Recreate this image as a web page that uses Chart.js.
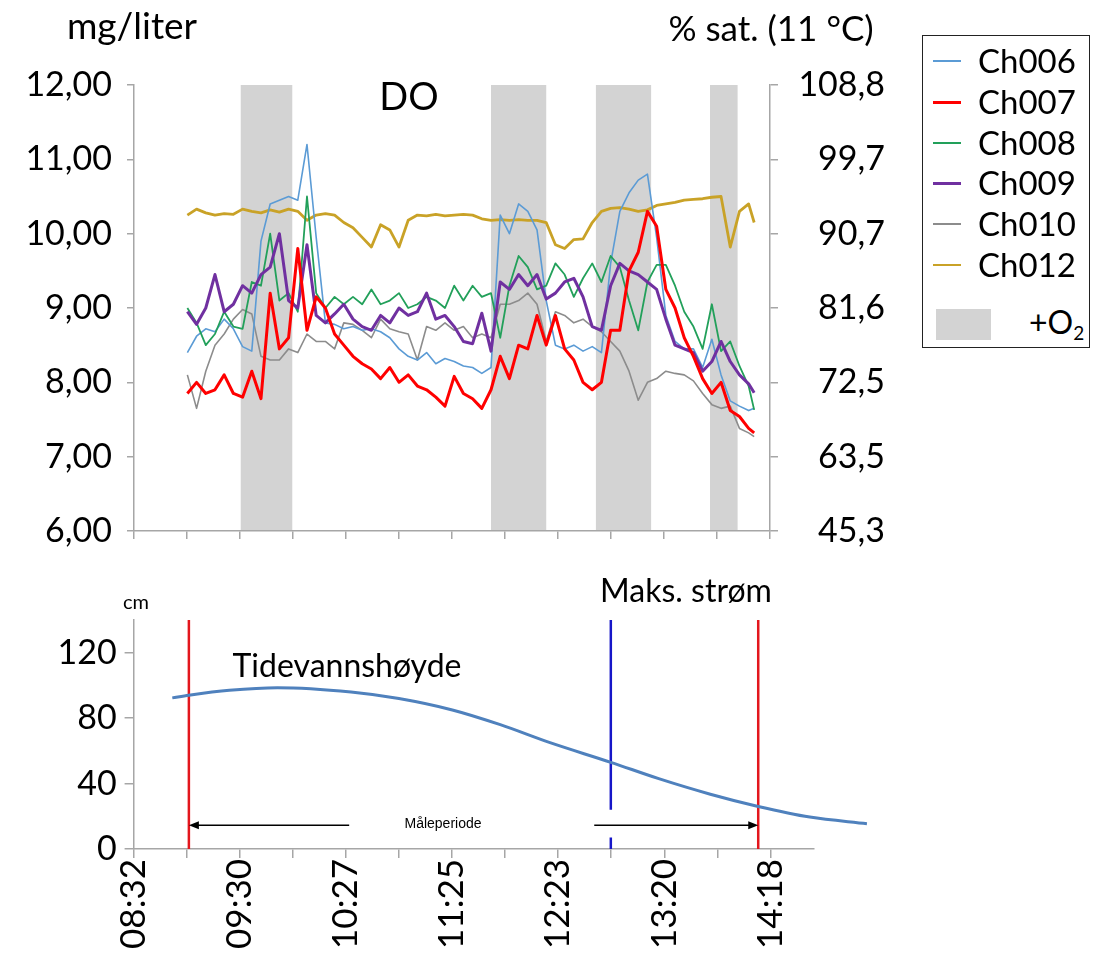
<!DOCTYPE html>
<html>
<head>
<meta charset="utf-8">
<title>DO og tidevann</title>
<script src="https://cdn.jsdelivr.net/npm/chart.js@4.4.0/dist/chart.umd.min.js"></script>
<style>
  html, body { margin: 0; padding: 0; background: #fff; }
  body { width: 1104px; height: 954px; position: relative; overflow: hidden;
         font-family: Lato, "Open Sans", sans-serif; color: #000; }
  canvas { position: absolute; left: 0; }
  .lbl { position: absolute; white-space: nowrap; line-height: 1; transform: translate(-50%, -50%); }
  #legend { position: absolute; left: 922px; top: 35px; width: 166px; height: 311px;
            border: 1.5px solid #222; }
  .lg-row { position: absolute; left: 0; height: 36px; width: 100%; }
  .lg-line { position: absolute; left: 10px; width: 28px; top: 50%; }
  .lg-txt { position: absolute; left: 55px; top: 50%; transform: translateY(-50%); font-size: 33px; line-height: 1; }
  .lg-box { position: absolute; left: 13px; top: 273px; width: 55px; height: 31px; background: #d3d3d3; }
  .lg-o2 { position: absolute; left: 106px; top: 288px; transform: translateY(-50%); font-size: 32px; line-height: 1; }
  .lg-o2 sub { font-size: 19px; vertical-align: -6px; }
</style>
</head>
<body>
<canvas id="doChart" width="900" height="560" style="top:0"></canvas>
<canvas id="tideChart" width="1104" height="394" style="top:560px"></canvas>

<div class="lbl" style="left:132px; top:24px; font-size:37px">mg/liter</div>
<div class="lbl" style="left:771px; top:27px; font-size:35px">% sat. (11 °C)</div>
<div class="lbl" style="left:409px; top:95px; font-size:38px">DO</div>
<div class="lbl" style="left:136px; top:601px; font-size:20px">cm</div>
<div class="lbl" style="left:347px; top:665px; font-size:32px">Tidevannshøyde</div>
<div class="lbl" style="left:686px; top:590px; font-size:32px">Maks. strøm</div>
<div class="lbl" style="left:443px; top:823px; font-size:14px; font-family:'Liberation Sans', Arial, sans-serif">Måleperiode</div>
<div id="legend"></div>

<script>
// ── DO-logg, 5-min punkter ──
var times = ['09:01','09:06','09:11','09:16','09:21','09:26','09:31','09:36','09:41','09:46',
             '09:51','09:56','10:01','10:06','10:11','10:16','10:21','10:26','10:31','10:36',
             '10:41','10:46','10:51','10:56','11:01','11:06','11:11','11:16','11:21','11:26',
             '11:31','11:36','11:41','11:46','11:51','11:56','12:01','12:06','12:11','12:16',
             '12:21','12:26','12:31','12:36','12:41','12:46','12:51','12:56','13:01','13:06',
             '13:11','13:16','13:21','13:26','13:31','13:36','13:41','13:46','13:51','13:56',
             '14:01','14:06','14:09'];

var ch006 = [8.40, 8.62, 8.72, 8.68, 8.85, 8.72, 8.48, 8.42, 9.90, 10.40,
             10.45, 10.50, 10.45, 11.20, 9.95, 8.80, 8.78, 8.72, 8.75, 8.70,
             8.72, 8.68, 8.60, 8.45, 8.35, 8.30, 8.40, 8.25, 8.32, 8.28,
             8.22, 8.20, 8.12, 8.20, 10.25, 10.00, 10.40, 10.30, 10.05, 9.10,
             8.50, 8.45, 8.50, 8.42, 8.48, 8.40, 9.60, 10.30, 10.55, 10.72,
             10.80, 9.95, 8.90, 8.55, 8.45, 8.45, 8.20, 8.58, 8.10, 7.75,
             7.68, 7.62, 7.65];
var ch007 = [7.85, 8.00, 7.85, 7.90, 8.10, 7.85, 7.80, 8.15, 7.78, 9.20,
             8.45, 8.60, 9.80, 8.70, 9.15, 9.00, 8.65, 8.50, 8.35, 8.25,
             8.18, 8.05, 8.20, 8.00, 8.10, 7.95, 7.90, 7.80, 7.68, 8.08,
             7.85, 7.78, 7.65, 7.90, 8.35, 8.05, 8.50, 8.45, 8.90, 8.50,
             8.90, 8.45, 8.30, 8.00, 7.90, 8.00, 8.70, 8.70, 9.50, 9.75,
             10.30, 10.10, 9.25, 9.00, 8.60, 8.35, 8.05, 7.85, 8.00, 7.62,
             7.54, 7.38, 7.32];
var ch008 = [9.00, 8.80, 8.50, 8.65, 8.95, 8.75, 8.72, 9.35, 9.30, 10.00,
             9.10, 9.20, 8.95, 10.50, 9.20, 9.00, 9.15, 9.05, 9.15, 9.05,
             9.25, 9.05, 9.10, 9.20, 9.00, 9.05, 9.15, 9.10, 9.00, 9.30,
             9.10, 9.30, 9.15, 9.20, 8.60, 9.30, 9.70, 9.55, 9.25, 9.30,
             9.60, 9.45, 9.15, 9.40, 9.60, 9.35, 9.70, 9.55, 9.10, 8.70,
             9.35, 9.58, 9.58, 9.30, 8.95, 8.75, 8.45, 9.05, 8.42, 8.55,
             8.22, 7.95, 7.63];
var ch009 = [8.95, 8.78, 9.00, 9.45, 8.95, 9.05, 9.30, 9.20, 9.45, 9.55,
             10.00, 9.10, 9.00, 9.85, 8.90, 8.80, 8.92, 9.05, 8.85, 8.75,
             8.70, 8.90, 8.80, 9.00, 8.90, 8.95, 9.20, 8.85, 8.90, 8.75,
             8.55, 8.52, 8.93, 8.42, 9.35, 9.25, 9.45, 9.30, 9.45, 9.12,
             9.20, 9.35, 9.40, 9.15, 8.75, 8.70, 9.30, 9.60, 9.50, 9.45,
             9.35, 9.25, 8.85, 8.50, 8.45, 8.40, 8.15, 8.28, 8.55, 8.28,
             8.10, 7.98, 7.86];
var ch010 = [8.10, 7.65, 8.15, 8.50, 8.65, 8.85, 8.98, 8.92, 8.35, 8.30,
             8.30, 8.45, 8.40, 8.65, 8.55, 8.55, 8.45, 8.80, 8.78, 8.70,
             8.60, 8.85, 8.72, 8.68, 8.65, 8.30, 8.75, 8.70, 8.80, 8.70,
             8.75, 8.60, 8.65, 8.60, 9.05, 9.05, 9.10, 9.20, 9.05, 8.55,
             8.95, 8.90, 8.80, 8.85, 8.75, 8.68, 8.55, 8.42, 8.15, 7.76,
             8.00, 8.05, 8.15, 8.12, 8.10, 8.02, 7.85, 7.70, 7.65, 7.68,
             7.38, 7.32, 7.27];
var ch012 = [10.25, 10.33, 10.28, 10.25, 10.27, 10.26, 10.33, 10.30, 10.28, 10.32,
             10.29, 10.33, 10.30, 10.18, 10.25, 10.27, 10.25, 10.15, 10.08, 9.95,
             9.82, 10.12, 10.05, 9.82, 10.18, 10.25, 10.24, 10.26, 10.24, 10.25,
             10.26, 10.25, 10.20, 10.18, 10.19, 10.18, 10.19, 10.18, 10.18, 10.15,
             9.85, 9.80, 9.92, 9.93, 10.15, 10.30, 10.34, 10.35, 10.33, 10.30,
             10.32, 10.38, 10.40, 10.42, 10.45, 10.46, 10.47, 10.49, 10.50, 9.82,
             10.30, 10.40, 10.15];

var seriesNames  = ['Ch006', 'Ch007', 'Ch008', 'Ch009', 'Ch010', 'Ch012'];
var seriesColors = ['#5b9bd5', '#ff0000', '#22a05a', '#7030a0', '#8c8c8c', '#c9a227'];
var seriesWidths = [1.6, 3, 1.8, 3, 1.6, 2.8];

// perioder med oksygentilsetting (+O2)
var o2Bands = [['09:30', '09:58'], ['11:46', '12:16'], ['12:43', '13:13'], ['13:45', '14:00']];

var mgTicks   = [6, 7, 8, 9, 10, 11, 12];
var satLabels = ['45,3', '63,5', '72,5', '81,6', '90,7', '99,7', '108,8'];

// ── Tidevann ──
var tideTimes = ['08:53', '09:02', '09:24', '09:50', '10:30', '10:56', '11:25', '11:51',
                 '12:18', '12:51', '13:17', '13:45', '14:11', '14:39', '15:10'];
var tideCm    = [92.4, 94, 97, 98.6, 96, 92, 85, 76, 65, 53, 43, 33.5, 26, 19.5, 15.5];

var timeTickLabels = ['08:32', '09:30', '10:27', '11:25', '12:23', '13:20', '14:18'];
var axisStart  = '08:32';
var tickStep   = 28.8;         // minutter (0,02 døgn)
var periodStart = '09:02', periodEnd = '14:11', maxCurrent = '12:51';
var periodArrows = [['10:29', '09:02'], ['12:42', '14:11']];
var arrowCm = 14.5;

var AXIS = '#a6a6a6';
var BAND = '#d3d3d3';

Chart.defaults.font.family = "Lato, 'Open Sans', sans-serif";
Chart.defaults.color = '#000';

function toMin(s) {
  var p = s.split(':');
  return parseInt(p[0], 10) * 60 + parseInt(p[1], 10);
}

var t0 = toMin(axisStart);
var tickVals = [];
for (var i = 0; i <= 12; i++) tickVals.push(t0 + i * tickStep);

function setTimeTicks(scale) {
  scale.ticks = tickVals.map(function(v) { return { value: v }; });
}

function timeLabel(v, idx) {
  return idx % 2 === 0 ? timeTickLabels[idx / 2] : '';
}

// y-aksene skal ikke dytte plottet opp/ned
function fixWidth(w) {
  return function(s) { s.width = w; s.paddingTop = 0; s.paddingBottom = 0; };
}

// ── Plugins ──

var bandPlugin = {
  id: 'o2bands',
  beforeDatasetsDraw: function(chart) {
    var ctx = chart.ctx, xs = chart.scales.x, a = chart.chartArea;
    ctx.save();
    ctx.fillStyle = BAND;
    o2Bands.forEach(function(b) {
      var x0 = xs.getPixelForValue(toMin(b[0]));
      var x1 = xs.getPixelForValue(toMin(b[1]));
      ctx.fillRect(x0, a.top, x1 - x0, a.bottom - a.top - 1);
    });
    ctx.restore();
  }
};

var arrowPlugin = {
  id: 'periodArrows',
  afterDatasetsDraw: function(chart) {
    var ctx = chart.ctx, xs = chart.scales.x, ys = chart.scales.y;
    var y = ys.getPixelForValue(arrowCm);
    ctx.save();
    ctx.strokeStyle = '#000';
    ctx.fillStyle = '#000';
    ctx.lineWidth = 1.5;
    periodArrows.forEach(function(a) {
      var x0 = xs.getPixelForValue(toMin(a[0]));
      var x1 = xs.getPixelForValue(toMin(a[1]));
      var dir = x1 > x0 ? 1 : -1;
      ctx.beginPath();
      ctx.moveTo(x0, y);
      ctx.lineTo(x1 - dir * 8, y);
      ctx.stroke();
      ctx.beginPath();
      ctx.moveTo(x1, y);
      ctx.lineTo(x1 - dir * 10, y - 4);
      ctx.lineTo(x1 - dir * 10, y + 4);
      ctx.closePath();
      ctx.fill();
    });
    ctx.restore();
  }
};

// ── DO chart ──

var doSeries = [ch006, ch007, ch008, ch009, ch010, ch012];
var drawOrder = [3, 0, 2, 1, 4, 5];   // lavere = tegnes øverst
var doDatasets = doSeries.map(function(vals, k) {
  return {
    label: seriesNames[k],
    data: vals.map(function(v, j) { return { x: toMin(times[j]), y: v }; }),
    borderColor: seriesColors[k],
    borderWidth: seriesWidths[k],
    pointRadius: 0,
    tension: 0,
    borderJoinStyle: 'round',
    order: drawOrder[k]
  };
});

new Chart(document.getElementById('doChart'), {
  type: 'line',
  data: { datasets: doDatasets },
  options: {
    responsive: false,
    animation: false,
    layout: { padding: { top: 85, left: 0, right: 15, bottom: 0 } },
    plugins: { legend: { display: false }, tooltip: { enabled: false } },
    scales: {
      x: {
        type: 'linear',
        min: t0, max: tickVals[12],
        bounds: 'data',
        afterBuildTicks: setTimeTicks,
        ticks: { display: false },
        grid: { drawOnChartArea: false, tickLength: 8, color: AXIS, lineWidth: 1.5 },
        border: { color: AXIS, width: 1.5 },
        afterFit: function(s) { s.height = 29; }
      },
      y: {
        position: 'left',
        min: mgTicks[0], max: mgTicks[mgTicks.length - 1],
        afterBuildTicks: function(s) { s.ticks = mgTicks.map(function(v) { return { value: v }; }); },
        ticks: {
          padding: 15, font: { size: 34 },
          callback: function(v) { return v.toFixed(2).replace('.', ','); }
        },
        grid: { drawOnChartArea: false, tickLength: 7, color: AXIS, lineWidth: 1.5 },
        border: { color: AXIS, width: 1.5 },
        afterFit: fixWidth(134)
      },
      y2: {
        position: 'right',
        min: mgTicks[0], max: mgTicks[mgTicks.length - 1],
        afterBuildTicks: function(s) { s.ticks = mgTicks.map(function(v) { return { value: v }; }); },
        ticks: {
          padding: 19, crossAlign: 'far', font: { size: 34 },
          callback: function(v, idx) { return satLabels[idx]; }
        },
        grid: { drawOnChartArea: false, tickLength: 8, color: AXIS, lineWidth: 1.5 },
        border: { color: AXIS, width: 1.5 },
        afterFit: fixWidth(115)
      }
    }
  },
  plugins: [bandPlugin]
});

// ── Tide chart ──

var tB = toMin(maxCurrent);
new Chart(document.getElementById('tideChart'), {
  type: 'line',
  data: {
    datasets: [
      {
        label: 'Tidevannshøyde',
        data: tideTimes.map(function(t, j) { return { x: toMin(t), y: tideCm[j] }; }),
        borderColor: '#4f81bd', borderWidth: 3, pointRadius: 0,
        tension: 0.4, cubicInterpolationMode: 'monotone', clip: false
      },
      {
        label: 'start',
        data: [{ x: toMin(periodStart), y: 0 }, { x: toMin(periodStart), y: 140 }],
        borderColor: '#e3161d', borderWidth: 2.5, pointRadius: 0
      },
      {
        label: 'slutt',
        data: [{ x: toMin(periodEnd), y: 0 }, { x: toMin(periodEnd), y: 140 }],
        borderColor: '#e3161d', borderWidth: 2.5, pointRadius: 0
      },
      {
        label: 'Maks. strøm',
        data: [{ x: tB, y: 140 }, { x: tB, y: 24 }, { x: tB, y: null }, { x: tB, y: 7 }, { x: tB, y: 0 }],
        borderColor: '#1616c8', borderWidth: 2.5, pointRadius: 0, spanGaps: false
      }
    ]
  },
  options: {
    responsive: false,
    animation: false,
    layout: { padding: { top: 60, right: 290.5, left: 0, bottom: 0 } },
    plugins: { legend: { display: false }, tooltip: { enabled: false } },
    scales: {
      x: {
        type: 'linear',
        min: t0, max: 881,
        bounds: 'data',
        afterBuildTicks: setTimeTicks,
        ticks: {
          autoSkip: false, minRotation: 90, maxRotation: 90, padding: 1,
          font: { size: 35 }, callback: timeLabel
        },
        grid: { drawOnChartArea: false, tickLength: 9, color: AXIS, lineWidth: 1.5 },
        border: { color: AXIS, width: 1.5 },
        afterFit: function(s) { s.height = 105; }
      },
      y: {
        min: 0, max: 140,
        ticks: {
          stepSize: 20, padding: 8, font: { size: 34 },
          callback: function(v) { return v % 40 === 0 ? String(v) : ''; }
        },
        grid: { drawOnChartArea: false, tickLength: 9, color: AXIS, lineWidth: 1.5 },
        border: { color: AXIS, width: 1.5 },
        afterFit: fixWidth(133.6)
      }
    }
  },
  plugins: [arrowPlugin]
});

// ── Legend (HTML) ──

(function() {
  var el = document.getElementById('legend');
  var html = '';
  seriesNames.forEach(function(n, k) {
    var top = 6 + k * 40.8;
    html += '<div class="lg-row" style="top:' + top + 'px">' +
      '<div class="lg-line" style="border-top:' + (k === 1 || k === 3 ? 3 : 2) + 'px solid ' + seriesColors[k] + '"></div>' +
      '<div class="lg-txt">' + n + '</div></div>';
  });
  html += '<div class="lg-box"></div><div class="lg-o2">+O<sub>2</sub></div>';
  el.innerHTML = html;
}());
</script>
</body>
</html>
